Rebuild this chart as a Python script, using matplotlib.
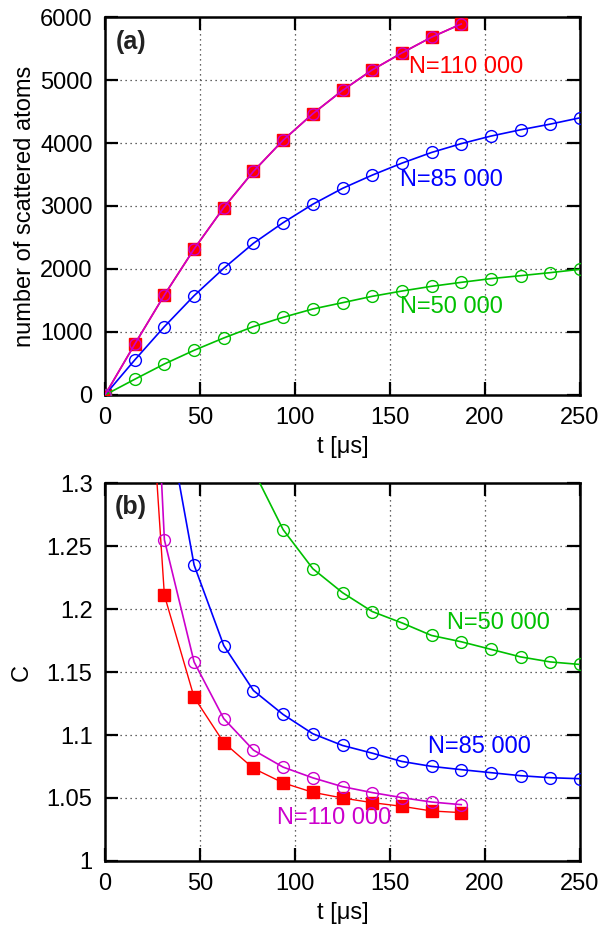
import numpy as np
import matplotlib
matplotlib.use('Agg')
import matplotlib.pyplot as plt

plt.rcParams['font.family'] = ['Liberation Sans', 'DejaVu Sans']

# time points (us), step 250/16
t_all = np.arange(17) * 15.625

# panel (a): number of scattered atoms
n110 = [0, 805, 1587, 2317, 2975, 3550, 4045, 4465, 4835, 5160, 5430, 5680, 5890]
n85 = [0, 555, 1085, 1576, 2011, 2408, 2735, 3028, 3280, 3490, 3680, 3850, 3990,
       4110, 4210, 4300, 4400]
n50 = [0, 249, 492, 709, 905, 1085, 1233, 1365, 1465, 1566, 1650, 1725, 1788,
       1847, 1894, 1942, 1995]

# panel (b): C, starting at t=15.625 (first points run off the top)
c110_sq = [1.57, 1.211, 1.130, 1.094, 1.0735, 1.062, 1.0545, 1.050, 1.0463,
           1.0434, 1.0397, 1.0384]
c110_ci = [1.74, 1.255, 1.158, 1.113, 1.088, 1.0745, 1.066, 1.059, 1.0543,
           1.0503, 1.0468, 1.0447]
c85 = [1.55, 1.365, 1.235, 1.171, 1.1353, 1.1163, 1.101, 1.0917, 1.0856, 1.079,
       1.0751, 1.0725, 1.0701, 1.0677, 1.0661, 1.0653]
c50 = [1.50, 1.31, 1.263, 1.232, 1.213, 1.198, 1.189, 1.179, 1.174, 1.168,
       1.162, 1.158, 1.156]

red = '#ff0000'
mag = '#cc00cc'
blue = '#0000ff'
green = '#00c000'
fs = 17

fig = plt.figure(figsize=(6.13, 9.25), dpi=100)
ax1 = fig.add_axes([0.1713, 0.5730, 0.7749, 0.4086])
ax2 = fig.add_axes([0.1713, 0.0692, 0.7749, 0.4086])

for ax in (ax1, ax2):
    ax.set_xlim(0, 250)
    ax.set_xticks([0, 50, 100, 150, 200, 250])
    ax.tick_params(direction='in', top=True, right=True, length=9.5, width=1.6,
                   labelsize=fs, pad=9)
    ax.grid(True, linestyle=(0, (1, 3)), color='#333333', linewidth=0.9)
    for s in ax.spines.values():
        s.set_linewidth(1.8)
    ax.set_xlabel('t [μs]', fontsize=fs, labelpad=5)

# (a)
ax1.plot(t_all[:13], n110, '-', color=red, lw=1.2, marker='s', ms=8,
         mfc=red, mec=red, zorder=3)
ax1.plot(t_all[:13], n110, '-', color=mag, lw=1.2, marker='o', ms=8,
         mfc='none', mec=mag, mew=1.0, zorder=4)
ax1.plot(t_all, n85, '-', color=blue, lw=1.2, marker='o', ms=8.5,
         mfc='none', mec=blue, mew=1.0, zorder=3)
ax1.plot(t_all, n50, '-', color=green, lw=1.2, marker='o', ms=8.5,
         mfc='none', mec=green, mew=1.0, zorder=3)
ax1.set_ylim(0, 6000)
ax1.set_yticks(np.arange(0, 6001, 1000))
ax1.set_ylabel('number of scattered atoms', fontsize=fs, labelpad=3)
ax1.text(5.5, 5600, '(a)', fontsize=18, fontweight='bold', color='#222222',
         va='center', ha='left')
ax1.text(160, 5206, 'N=110 000', color=red, fontsize=fs, va='center')
ax1.text(155, 3413, 'N=85 000', color=blue, fontsize=fs, va='center')
ax1.text(155, 1402, 'N=50 000', color=green, fontsize=fs, va='center')

# (b)
t_b = t_all[1:]
ax2.plot(t_b[:12], c110_sq, '-', color=red, lw=1.0, marker='s', ms=8,
         mfc=red, mec=red, zorder=3)
ax2.plot(t_b[:12], c110_ci, '-', color=mag, lw=1.2, marker='o', ms=8.5,
         mfc='none', mec=mag, mew=1.0, zorder=3)
ax2.plot(t_b[:16], c85, '-', color=blue, lw=1.2, marker='o', ms=8.5,
         mfc='none', mec=blue, mew=1.0, zorder=3)
ax2.plot(t_b[3:16], c50, '-', color=green, lw=1.2, marker='o', ms=8.5,
         mfc='none', mec=green, mew=1.0, zorder=3)
ax2.set_ylim(1.0, 1.3)
cticks = [1.0, 1.05, 1.1, 1.15, 1.2, 1.25, 1.3]
ax2.set_yticks(cticks)
ax2.set_yticklabels(['1', '1.05', '1.1', '1.15', '1.2', '1.25', '1.3'])
ax2.set_ylabel('C', fontsize=fs, labelpad=10)
ax2.text(5, 1.281, '(b)', fontsize=18, fontweight='bold', color='#222222',
         va='center', ha='left')
ax2.text(180, 1.189, 'N=50 000', color=green, fontsize=fs, va='center')
ax2.text(170, 1.0904, 'N=85 000', color=blue, fontsize=fs, va='center')
ax2.text(90.5, 1.034, 'N=110 000', color=mag, fontsize=fs, va='center')

fig.savefig('out.png', dpi=100)
